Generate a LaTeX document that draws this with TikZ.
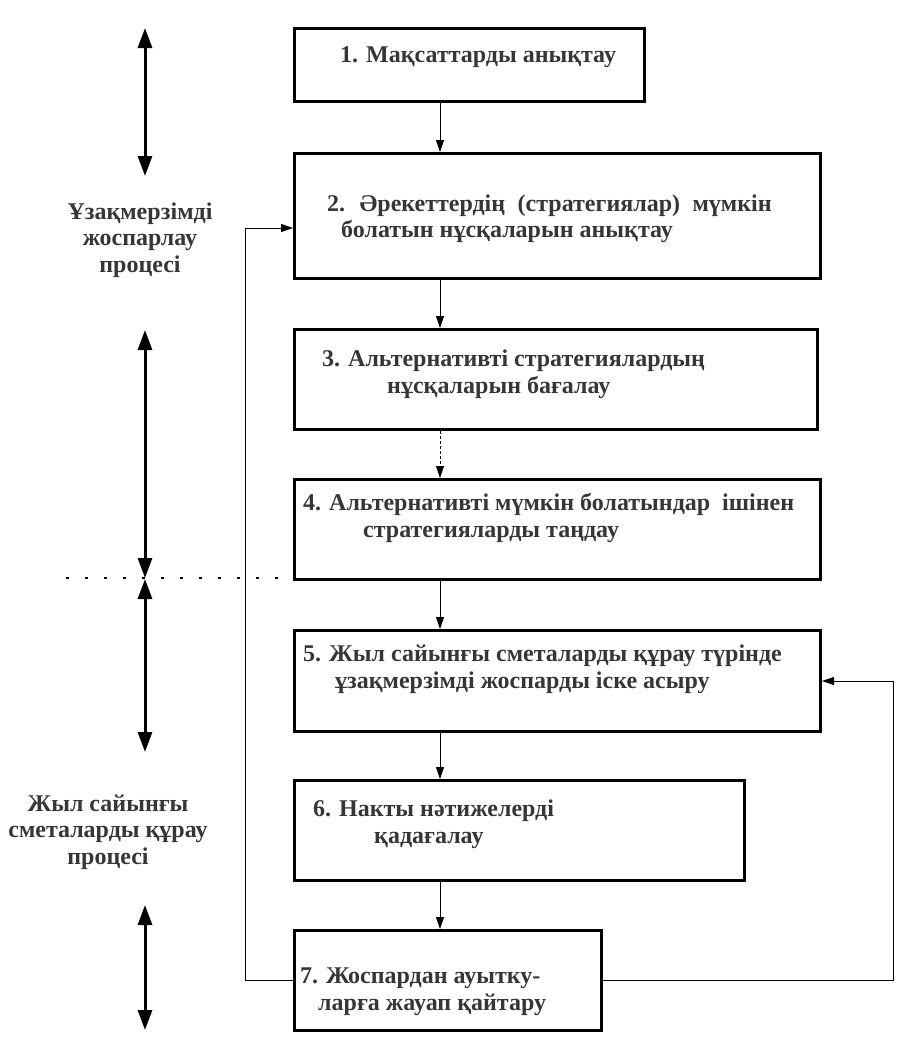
\documentclass[tikz,border=0pt]{standalone}
\usepackage{fontspec}
\setmainfont{Liberation Serif}
\usetikzlibrary{arrows.meta,calc}
\definecolor{txt}{HTML}{363636}
\begin{document}
\begin{tikzpicture}[x=1pt,y=-1pt,
 box/.style={draw, line width=3pt, anchor=north west, inner sep=0pt},
 lab/.style={anchor=base west, inner sep=0pt, font=\fontsize{24}{26}\selectfont\bfseries, text=txt},
 side/.style={align=center, inner sep=0pt, font=\fontsize{24}{26.5}\selectfont\bfseries, text=txt},
 flow/.style={line width=0.9pt, -{Triangle[length=12pt,width=8pt]}},
 fb/.style={line width=0.9pt},
 big/.style={line width=3pt, {Triangle[length=20pt,width=14pt]}-{Triangle[length=20pt,width=14pt]}},
]
\useasboundingbox (0,0) rectangle (907,1045);
% boxes
\node[box, minimum width=350pt, minimum height=73pt] (b1) at (293,27) {};
\node[box, minimum width=526pt, minimum height=125pt] (b2) at (293,152) {};
\node[box, minimum width=523pt, minimum height=100pt] (b3) at (293,328) {};
\node[box, minimum width=526pt, minimum height=100pt] (b4) at (293,478) {};
\node[box, minimum width=526pt, minimum height=101pt] (b5) at (293,629) {};
\node[box, minimum width=450pt, minimum height=100pt] (b6) at (293,779) {};
\node[box, minimum width=307pt, minimum height=100pt] (b7) at (293,929) {};
% texts
\node[lab] (t1) at (340,62) {1. Мақсаттарды анықтау};
\node[lab] (t2a) at (327,211) {\spaceskip=12.5pt plus 2pt 2. Әрекеттердің (стратегиялар) мүмкін};
\node[lab] (t2b) at (341,237) {болатын нұсқаларын анықтау};
\node[lab] (t3a) at (322,366) {3. Альтернативті стратегиялардың};
\node[lab] (t3b) at (387,393) {нұсқаларын бағалау};
\node[lab] (t4a) at (303,510) {4. Альтернативті мүмкін болатындар\ \ ішінен};
\node[lab] (t4b) at (363,537) {стратегияларды таңдау};
\node[lab] (t5a) at (303,661) {5. Жыл сайынғы сметаларды құрау түрінде};
\node[lab] (t5b) at (335,688) {ұзақмерзімді жоспарды іске асыру};
\node[lab] (t6a) at (313,816) {6. Накты нәтижелерді};
\node[lab] (t6b) at (374,843) {қадағалау};
\node[lab] (t7a) at (300,983) {7. Жоспардан ауытку-};
\node[lab] (t7b) at (318,1010) {ларға жауап қайтару};
% flow arrows
\draw[flow] (440,0 |- b1.south) -- (440,0 |- b2.north);
\draw[flow] (440,0 |- b2.south) -- (440,0 |- b3.north);
\draw[flow, dash pattern=on 3pt off 2pt] (440,0 |- b3.south) -- (440,0 |- b4.north);
\draw[flow] (440,0 |- b4.south) -- (440,0 |- b5.north);
\draw[flow] (440,0 |- b5.south) -- (440,0 |- b6.north);
\draw[flow] (440,0 |- b6.south) -- (440,0 |- b7.north);
% feedback
\coordinate (fl) at (b7.west -| 245,0);
\coordinate (fr) at (b7.east -| 893,0);
\coordinate (in2) at ($(b2.west)+(0,12)$);
\draw[fb] (b7.west) -- (fl) -- (fl |- in2);
\draw[flow] (fl |- in2) -- (in2);
\draw[fb] (b7.east) -- (fr) -- (fr |- b5.east);
\draw[flow] (fr |- b5.east) -- (b5.east);
% side arrows
\coordinate (a1) at (145,28); \coordinate (a2) at (145,176);
\coordinate (a3) at (145,330); \coordinate (a4) at (145,578);
\coordinate (a5) at (145,579); \coordinate (a6) at (145,752);
\coordinate (a7) at (145,905); \coordinate (a8) at (145,1030);
\draw[big] (a1) -- (a2);
\draw[big] (a3) -- (a4);
\draw[big] (a5) -- (a6);
\draw[big] (a7) -- (a8);
% dotted separator
\coordinate (d1) at (66,578); \coordinate (d2) at (292,578);
\draw[line width=2.5pt, dash pattern=on 2.5pt off 16.5pt] (d1) -- (d2);
% side labels
\node[side] (s1) at (140,240) {Ұзақмерзімді\\жоспарлау\\процесі};
\node[side] (s2) at (108,832) {Жыл сайынғы\\сметаларды құрау\\процесі};
\end{tikzpicture}
\end{document}
